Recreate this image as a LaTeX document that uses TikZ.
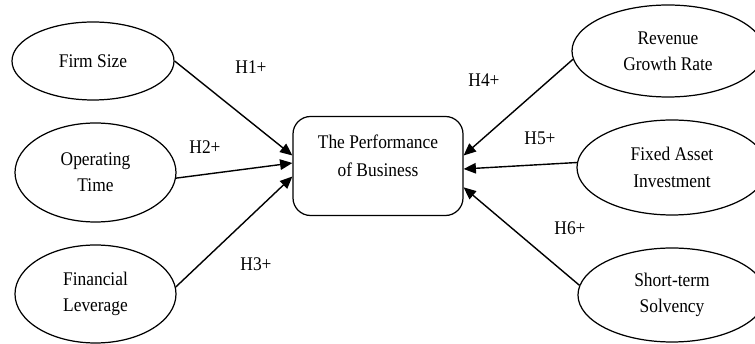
\documentclass[tikz,border=0pt]{standalone}
\usepackage{fontspec}
\setmainfont{Liberation Serif}[FakeStretch=0.9]
\usetikzlibrary{positioning, calc, shapes.geometric, arrows.meta}

\begin{document}
\begin{tikzpicture}[x=0.02cm, y=-0.02cm,
	factor/.style={draw, ellipse, line width=0.7pt, inner sep=0pt, align=center, font=\fontsize{11}{15}\selectfont},
	hyp/.style={font=\fontsize{11}{13}\selectfont},
	link/.style={line width=0.8pt, -{Triangle[length=7pt, width=6pt]}}]
	\useasboundingbox (0,0) rectangle (755,344);
	\clip (0,0) rectangle (755,344);
	% left side
	\node (fs) [factor, minimum width=162*0.02cm, minimum height=78*0.02cm] at (93,61) {Firm Size};
	\node (ot) [factor, minimum width=161*0.02cm, minimum height=99*0.02cm] at (95.5,172.5) {Operating\\Time};
	\node (fl) [factor, minimum width=161*0.02cm, minimum height=98*0.02cm] at (95.5,294) {Financial\\Leverage};
	% center
	\node (perf) [draw, rounded corners=10pt, line width=0.7pt, minimum width=170*0.02cm, minimum height=99*0.02cm] at (378,166) {};
	\node (perflabel) [align=center, font=\fontsize{11}{16}\selectfont] at (378,156) {The Performance\\of Business};
	% right side
	\node (rg) [factor, minimum width=192*0.02cm, minimum height=92*0.02cm] at (668,51) {Revenue\\Growth Rate};
	\node (fa) [factor, minimum width=190*0.02cm, minimum height=95*0.02cm] at (672,167.5) {Fixed Asset\\Investment};
	\node (st) [factor, minimum width=188*0.02cm, minimum height=94*0.02cm] at (672,295) {Short-term\\Solvency};

	\draw [link] (fs.east) -- (perf.173);
	\draw [link] (ot.-4) -- (perf.178);
	\draw [link] (fl.5) -- (perf.187);
	\draw [link] (rg.185) -- (perf.7);
	\draw [link] (fa.177) -- (perf.-2);
	\draw [link] (st.174) -- (perf.-14);

	\node (h1) [hyp] at (251,67) {H1+};
	\node (h2) [hyp] at (205,147) {H2+};
	\node (h3) [hyp] at (256,264) {H3+};
	\node (h4) [hyp] at (484,80) {H4+};
	\node (h5) [hyp] at (540,138) {H5+};
	\node (h6) [hyp] at (570,228) {H6+};
\end{tikzpicture}
\end{document}
